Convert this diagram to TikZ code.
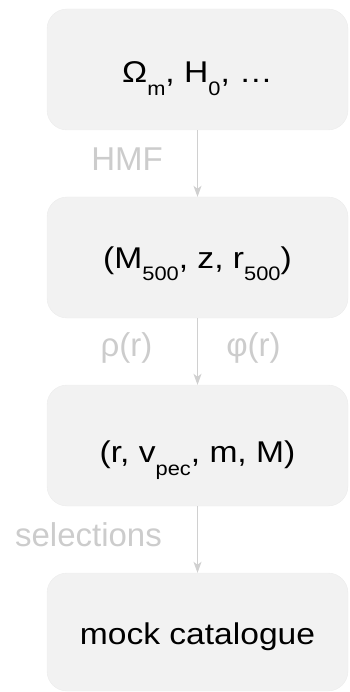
\documentclass[tikz,border=0pt]{standalone}
\usepackage{fontspec}
\setmainfont{Liberation Sans}
\newfontfamily\boxfont{Liberation Sans}[FakeStretch=1.12]
\usetikzlibrary{arrows.meta}
\definecolor{boxfill}{HTML}{F2F2F2}
\definecolor{boxline}{HTML}{ECECEC}
\definecolor{lblgray}{HTML}{CCCCCC}
\definecolor{arrgray}{HTML}{D0D0D0}
\newcommand\lowsub[1]{\raisebox{-13pt}{\fontsize{19.5}{20}\selectfont #1}}
\begin{document}
\begin{tikzpicture}[x=1pt,y=-1pt,
  flowbox/.style={draw=boxline, fill=boxfill, rounded corners=20pt,
    minimum width=301pt, minimum height=121pt, inner sep=0pt,
    font=\boxfont\fontsize{30}{36}\selectfont, text depth=10pt},
  flowarrow/.style={draw=arrgray, line width=1pt, -{Stealth[length=11pt,width=8pt,inset=3pt]}},
  edgelbl/.style={text=lblgray, font=\fontsize{33}{40}\selectfont, inner sep=0pt, anchor=base}
]
\useasboundingbox (0,0) rectangle (349,692);
\node[flowbox, text height=35.6pt] (b1) at (197.5,69.5) {Ω\lowsub{m}, H\lowsub{0}, …};
\node[flowbox, text height=31pt] (b2) at (197.5,257.5) {(M\lowsub{500}, z, r\lowsub{500})};
\node[flowbox, text height=44pt] (b3) at (197.5,445.5) {(r, v\lowsub{pec}, m, M)};
\node[flowbox, text height=34pt, minimum height=118pt] (b4) at (197.5,632) {mock catalogue};
\draw[flowarrow] (b1.south) -- (b2.north);
\draw[flowarrow] (b2.south) -- (b3.north);
\draw[flowarrow] (b3.south) -- (b4.north);
\node[edgelbl] (hmf) at (127,170.7) {HMF};
\node[edgelbl] (rho) at (126.5,356) {ρ(r)};
\node[edgelbl] (phi) at (253.5,356) {φ(r)};
\node[edgelbl] (sel) at (88.5,546) {selections};
\end{tikzpicture}
\end{document}
